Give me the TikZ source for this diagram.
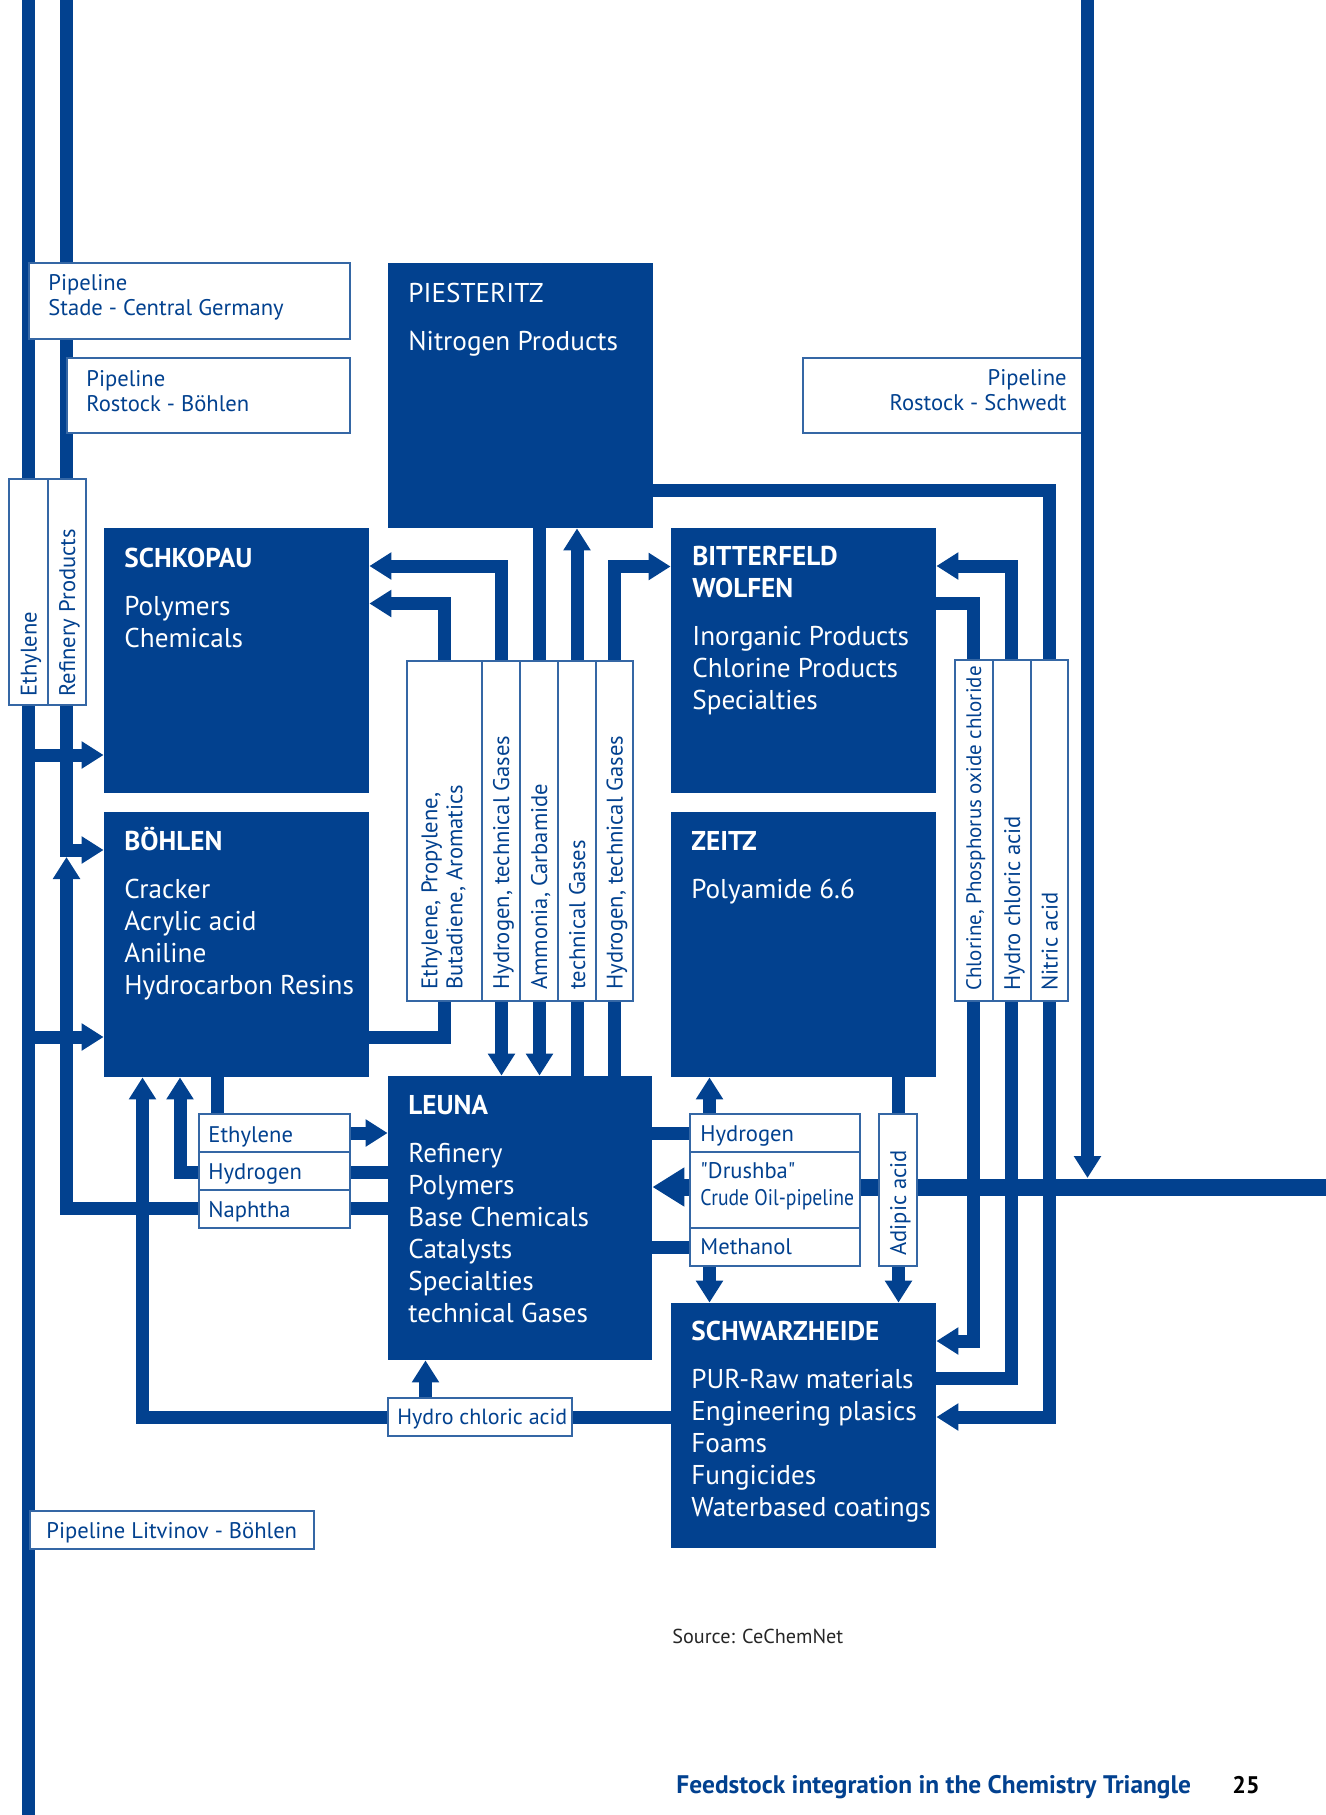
\documentclass[tikz,border=0pt]{standalone}
\usepackage{fontspec}
\setmainfont{PT Sans}
\newfontfamily\narrowfont[FakeStretch=0.87, Ligatures=TeXOff]{PT Sans}
\newfontfamily\plainfont[Ligatures=TeXOff]{PT Sans}
\usepackage{tikz}
\usetikzlibrary{
  arrows.meta,
  fit
}
\definecolor{chemblue}{RGB}{2,65,143}
\newcommand{\sitetop}{\rule{0pt}{13pt}}
\newcommand{\tagtop}{\rule{0pt}{11pt}}
\pgfdeclarelayer{pipes}
\pgfsetlayers{pipes,main}
\tikzset{
  >={Triangle[length=11pt,width=13pt]},
  pipe/.style={draw=chemblue, line width=6.5pt},
  site/.style={fill=chemblue, inner sep=0pt},
  tag/.style={draw=chemblue!80, fill=white, line width=0.6pt, inner sep=0pt},
  sitetext/.style={anchor=north west, align=left, inner sep=0pt, text=white,
    font=\fontsize{13.6}{16}\selectfont},
  tagtext/.style={anchor=base west, align=left, inner sep=0pt, text=chemblue,
    font=\fontsize{11.3}{12.5}\selectfont},
  vtext/.style={tagtext, rotate=90}
}

\begin{document}
\begin{tikzpicture}[x=0.5pt, y=-0.5pt]
  \useasboundingbox (0,0) rectangle (1326,1815);

  % sites
  \node[site, fit={(388,263) (653,528)}] (piesteritz) {};
  \node[site, fit={(104,528) (369,793)}] (schkopau) {};
  \node[site, fit={(671,528) (936,793)}] (bitterfeld) {};
  \node[site, fit={(104,812) (369,1077)}] (bohlen) {};
  \node[site, fit={(671,812) (936,1077)}] (zeitz) {};
  \node[site, fit={(388,1076) (652,1360)}] (leuna) {};
  \node[site, fit={(671,1303) (936,1548)}] (schwarzheide) {};

  % pipeline tags
  \node[tag, fit={(29,263) (350,339)}] (stade) {};
  \node[tag, fit={(67,358) (350,433)}] (rostockb) {};
  \node[tag, fit={(803,358) (1087,433)}] (rostocks) {};
  \node[tag, fit={(30,1511) (314,1549)}] (litvinov) {};
  \node[tag, fit={(9,479) (48,705)}] (ethv) {};
  \node[tag, fit={(48,479) (86,705)}] (refv) {};
  \node[tag, fit={(407,661) (482,1001)}] (col1) {};
  \node[tag, fit={(482,661) (520,1001)}] (col2) {};
  \node[tag, fit={(520,661) (558,1001)}] (col3) {};
  \node[tag, fit={(558,661) (596,1001)}] (col4) {};
  \node[tag, fit={(596,661) (633,1001)}] (col5) {};
  \node[tag, fit={(955,660) (993,1001)}] (colr1) {};
  \node[tag, fit={(993,660) (1031,1001)}] (colr2) {};
  \node[tag, fit={(1031,660) (1068,1001)}] (colr3) {};
  \node[tag, fit={(199,1114) (350,1152)}] (ethl) {};
  \node[tag, fit={(199,1152) (350,1190)}] (hydl) {};
  \node[tag, fit={(199,1190) (350,1228)}] (napl) {};
  \node[tag, fit={(690,1114) (860,1152)}] (hydr) {};
  \node[tag, fit={(690,1152) (860,1228)}] (drushba) {};
  \node[tag, fit={(690,1228) (860,1266)}] (methr) {};
  \node[tag, fit={(879,1114) (917,1266)}] (adipic) {};
  \node[tag, fit={(388,1398) (572,1436)}] (hcl) {};

  \coordinate (lw) at (28.5,0);
  \coordinate (lwend) at (28.5,1815);
  \coordinate (rb) at (66.5,0);
  \coordinate (rs) at (1087.5,0);
  \coordinate (dr) at (1326,1187);

  \begin{pgfonlayer}{pipes}
    % west side
    \draw[pipe] (lw) -- (lwend);
    \draw[pipe, ->] (lw |- 0,755) -- (schkopau.west |- 0,755);
    \draw[pipe, ->] (lw |- 0,1037) -- (bohlen.west |- 0,1037);
    \draw[pipe, ->] (rb) |- (bohlen.west |- 0,850);
    \draw[pipe, ->] (leuna.west |- 0,1208.5) -| (rb |- 0,857);
    \draw[pipe, ->] (leuna.west |- 0,1172) -| (bohlen.south -| 180,0);
    \draw[pipe, ->] (bohlen.south -| 217.5,0) |- (leuna.west |- 0,1133);
    \draw[pipe, ->] (schwarzheide.west |- 0,1417) -| (bohlen.south -| 142.5,0);
    \draw[pipe, ->] (hcl.north -| 425.5,0) -- (leuna.south -| 425.5,0);
    % middle
    \draw[pipe, ->] (bohlen.east |- 0,1037) -| (444.5,603.5) -- (schkopau.east |- 0,603.5);
    \draw[pipe, <->] (schkopau.east |- 0,566) -| (leuna.north -| 501.5,0);
    \draw[pipe, ->] (piesteritz.south -| 539.5,0) -- (leuna.north -| 539.5,0);
    \draw[pipe, ->] (leuna.north -| 577,0) -- (piesteritz.south -| 577,0);
    \draw[pipe, ->] (leuna.north -| 614.5,0) |- (bitterfeld.west |- 0,566.5);
    % east side
    \draw[pipe, ->] (piesteritz.east |- 0,490.5) -| (1049.5,1417) -- (schwarzheide.east |- 0,1417);
    \draw[pipe, ->] (bitterfeld.east |- 0,603.5) -| (973.5,1341) -- (schwarzheide.east |- 0,1341);
    \draw[pipe, ->] (schwarzheide.east |- 0,1378.5) -| (1011.5,566) -- (bitterfeld.east |- 0,566);
    \draw[pipe, line width=8.5pt, -{Triangle[length=16pt,width=18.5pt]}] (dr) -- (leuna.east |- dr);
    \draw[pipe, ->] (leuna.east |- 0,1133) -| (zeitz.south -| 709.5,0);
    \draw[pipe, ->] (leuna.east |- 0,1247) -| (schwarzheide.north -| 709.5,0);
    \draw[pipe, ->] (zeitz.south -| 898.5,0) -- (schwarzheide.north -| 898.5,0);
  \end{pgfonlayer}
  \draw[pipe, ->] (rs) -- (rs |- 0,1178);

  % site texts
  \node[sitetext] (piesteritz-t) at (408,276) {\sitetop PIESTERITZ\\[8pt]Nitrogen Products};
  \node[sitetext] (schkopau-t) at (124,541) {\sitetop\textbf{SCHKOPAU}\\[8pt]Polymers\\Chemicals};
  \node[sitetext] (bitterfeld-t) at (692,539) {\sitetop\textbf{BITTERFELD}\\\textbf{WOLFEN}\\[8pt]Inorganic Products\\Chlorine Products\\Specialties};
  \node[sitetext] (bohlen-t) at (124,824) {\sitetop\textbf{BÖHLEN}\\[8pt]Cracker\\Acrylic acid\\Aniline\\Hydrocarbon Resins};
  \node[sitetext] (zeitz-t) at (691,824) {\sitetop\textbf{ZEITZ}\\[8pt]Polyamide 6.6};
  \node[sitetext] (leuna-t) at (408,1088) {\sitetop\textbf{LEUNA}\\[8pt]Refinery\\Polymers\\Base Chemicals\\Catalysts\\Specialties\\technical Gases};
  \node[sitetext] (schwarzheide-t) at (691,1314) {\sitetop\textbf{SCHWARZHEIDE}\\[8pt]PUR-Raw materials\\Engineering plasics\\Foams\\Fungicides\\Waterbased coatings};

  % tag texts
  \node[tagtext, anchor=north west] (stade-t) at (48,268) {\tagtop Pipeline\\Stade - Central Germany};
  \node[tagtext, anchor=north west] (rostockb-t) at (86,364) {\tagtop Pipeline\\Rostock - Böhlen};
  \node[tagtext, anchor=north east, align=right] (rostocks-t) at (1067,363) {\tagtop Pipeline\\Rostock - Schwedt};
  \node[tagtext] (litvinov-t) at (46,1538) {Pipeline Litvinov - Böhlen};
  \node[vtext] (ethv-t) at (36.5,697) {Ethylene};
  \node[vtext] (refv-t) at (75,697) {Refinery Products};
  \node[vtext, anchor=north west] (col1-t) at (415,990) {\tagtop Ethylene, Propylene,\\Butadiene, Aromatics};
  \node[vtext] (col2-t) at (509,990) {Hydrogen, technical Gases};
  \node[vtext] (col3-t) at (547,990) {Ammonia, Carbamide};
  \node[vtext] (col4-t) at (585,990) {technical Gases};
  \node[vtext] (col5-t) at (622.5,990) {Hydrogen, technical Gases};
  \node[vtext, font=\fontsize{10.5}{12.5}\selectfont] (colr1-t) at (981,991) {Chlorine, Phosphorus oxide chloride};
  \node[vtext] (colr2-t) at (1020,991) {Hydro chloric acid};
  \node[vtext] (colr3-t) at (1057.5,991) {Nitric acid};
  \node[vtext] (adipic-t) at (906,1256) {Adipic acid};
  \node[tagtext] (ethl-t) at (208,1142) {Ethylene};
  \node[tagtext] (hydl-t) at (208,1179) {Hydrogen};
  \node[tagtext] (napl-t) at (208,1217) {Naphtha};
  \node[tagtext] (hydr-t) at (700,1141) {Hydrogen};
  \node[tagtext, anchor=north west] (drushba-t) at (700,1156) {\tagtop{\plainfont"Drushba"}\\[1pt]{\narrowfont Crude Oil-pipeline}};
  \node[tagtext] (methr-t) at (700,1254) {Methanol};
  \node[tagtext, font=\fontsize{11}{12.5}\selectfont] (hcl-t) at (397,1424) {Hydro chloric acid};

  % footer
  \node[anchor=base west, inner sep=0pt, text=black!85, font=\fontsize{10.1}{12}\selectfont] (source) at (672,1643) {Source: CeChemNet};
  \node[anchor=base west, inner sep=0pt, text=chemblue, font=\fontsize{12.7}{14}\selectfont\bfseries] (footer) at (676,1793) {Feedstock integration in the Chemistry Triangle};
  \node[anchor=base west, inner sep=0pt, font=\fontsize{12}{14}\selectfont\bfseries] (page) at (1232,1793) {25};
\end{tikzpicture}
\end{document}
